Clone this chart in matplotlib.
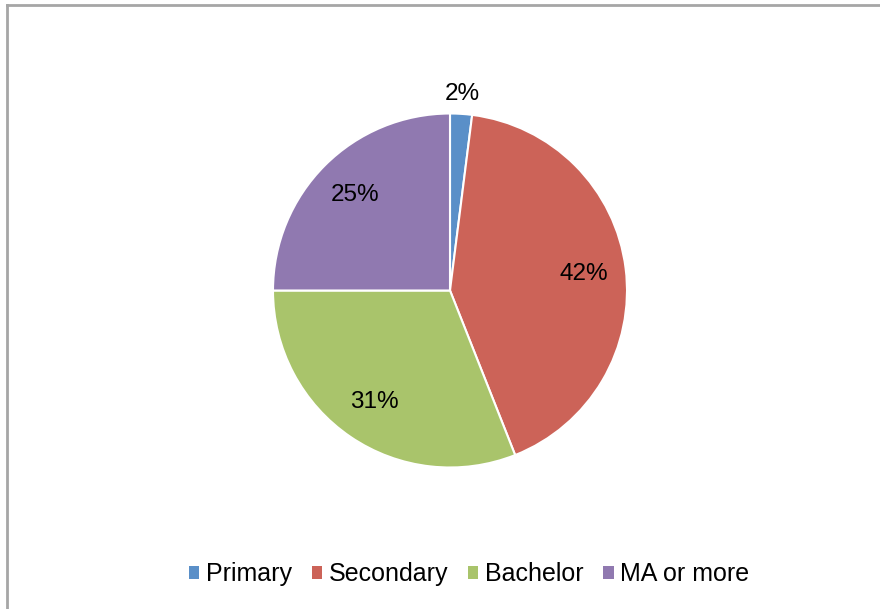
import matplotlib.pyplot as plt
import numpy as np
from matplotlib.lines import Line2D
from matplotlib.patches import Patch

plt.rcParams['font.family'] = ['Liberation Sans', 'DejaVu Sans']

categories = ["Primary", "Secondary", "Bachelor", "MA or more"]
shares = [2, 42, 31, 25]
colors = ["#5A8FC8", "#CC6358", "#A9C46B", "#9079B0"]

W, H = 880, 609
fig = plt.figure(figsize=(W / 100, H / 100), dpi=100)

# grey frame along the top and left edges
fig.add_artist(Line2D([7 / W, 7 / W], [0, 1 - 5 / H], color="#A6A6A6", lw=2.0))
fig.add_artist(Line2D([7 / W, 1], [1 - 5 / H, 1 - 5 / H], color="#A6A6A6", lw=2.0))

cx, cy, r = 450, 290.5, 177
ax = fig.add_axes([(cx - r) / W, (H - cy - r) / H, 2 * r / W, 2 * r / H])
wedges, texts, autotexts = ax.pie(
    shares, colors=colors, startangle=90, counterclock=False,
    autopct="%1.0f%%", pctdistance=0.76,
    wedgeprops=dict(edgecolor="white", linewidth=1.5),
    textprops=dict(fontsize=17.5, color="black"),
)
ax.set_xlim(-1, 1)
ax.set_ylim(-1, 1)
ax.set_aspect("equal")

# the thin Primary slice gets its label outside the pie
w = wedges[0]
mid = np.deg2rad((w.theta1 + w.theta2) / 2)
autotexts[0].set_position((1.11 * np.cos(mid), 1.11 * np.sin(mid)))

handles = [Patch(facecolor=c, edgecolor="none") for c in colors]
fig.legend(handles, categories, loc="center", bbox_to_anchor=(469 / W, 1 - 574 / H),
           ncol=4, frameon=False, fontsize=18, handlelength=0.42, handleheight=0.42,
           handletextpad=0.25, columnspacing=0.8)

fig.savefig("out.png", dpi=100)
